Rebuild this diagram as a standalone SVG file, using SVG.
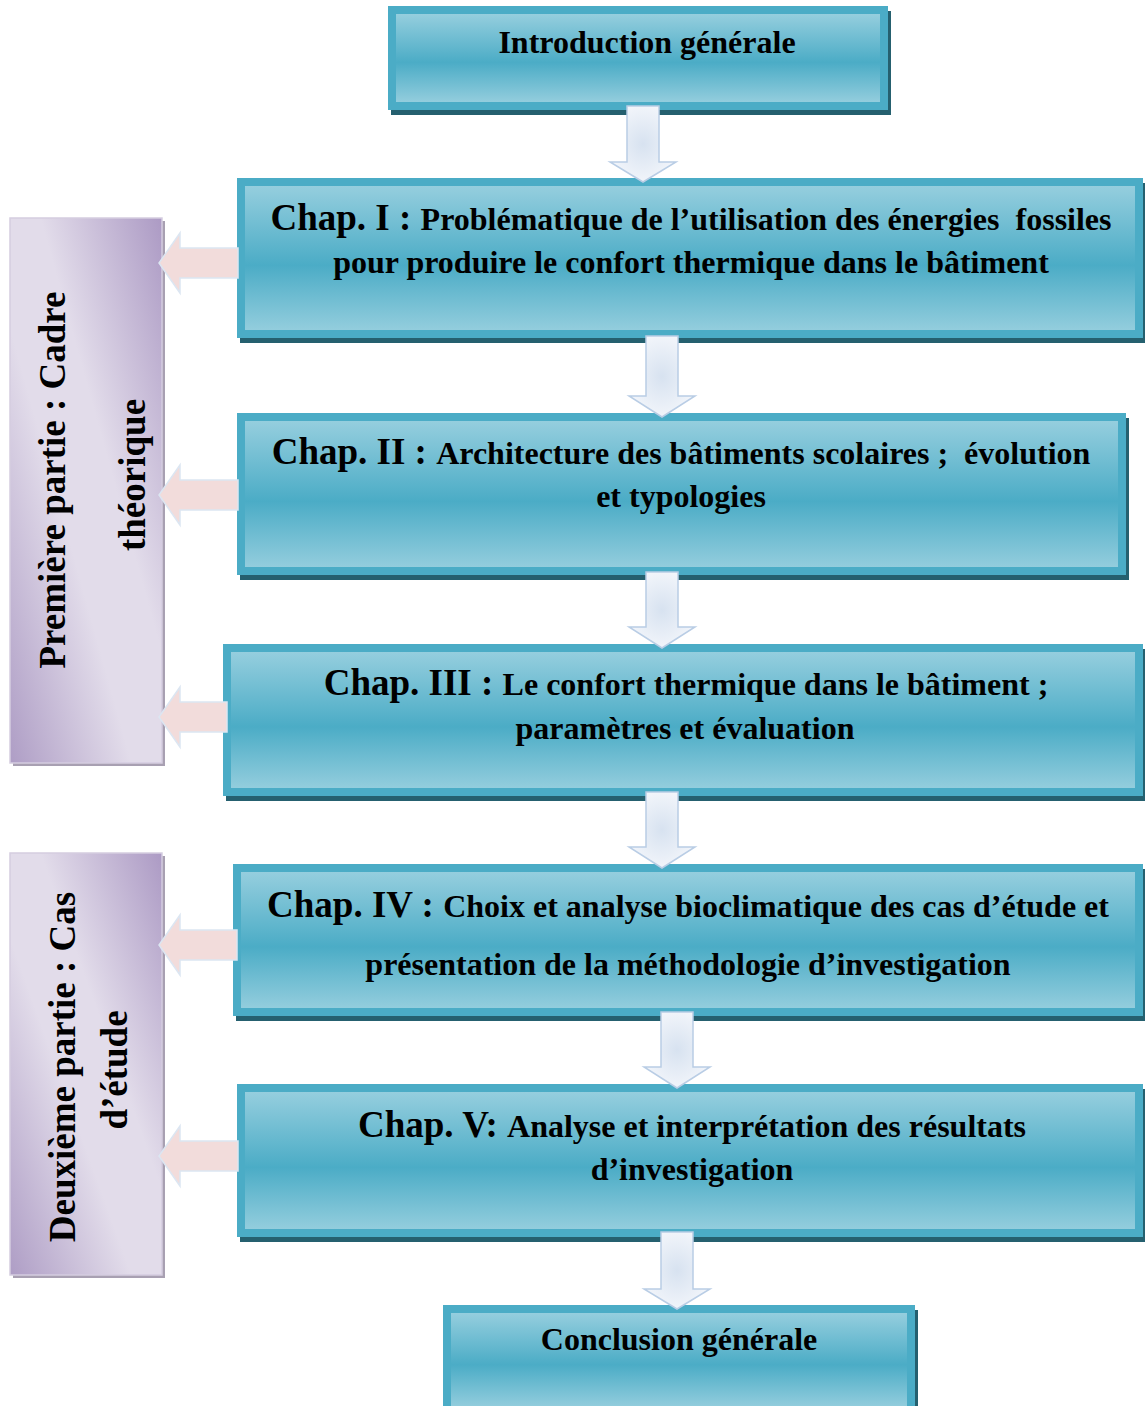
<svg xmlns="http://www.w3.org/2000/svg" width="1145" height="1406" viewBox="0 0 1145 1406">
<defs>
<linearGradient id="boxg" x1="0" y1="0" x2="0" y2="1">
<stop offset="0" stop-color="#95CEDE"/>
<stop offset="0.55" stop-color="#4BACC6"/>
<stop offset="1" stop-color="#93CDDD"/>
</linearGradient>
<linearGradient id="panelg" x1="0" y1="1" x2="1" y2="0">
<stop offset="0" stop-color="#AE9DC5"/>
<stop offset="0.4" stop-color="#E2DCEA"/>
<stop offset="0.6" stop-color="#E2DCEA"/>
<stop offset="1" stop-color="#AC9AC4"/>
</linearGradient>
<radialGradient id="downg" cx="0.5" cy="0.5" r="0.6">
<stop offset="0" stop-color="#D7E2F0"/>
<stop offset="1" stop-color="#F6F8FC"/>
</radialGradient>
<style>
.shadow{fill:#25606F}
.outer{fill:#4BACC6}
.inner{fill:url(#boxg)}
.pshadow{fill:#A8A0B2}
.panel{fill:url(#panelg);stroke:#D5CDE0;stroke-width:1.5}
.t{font-family:"Liberation Serif","Times New Roman",serif;font-weight:bold;font-size:32px;fill:#000;text-anchor:middle}
.c{font-size:37px}
.pt{font-family:"Liberation Serif","Times New Roman",serif;font-weight:bold;font-size:37px;fill:#000;text-anchor:middle}
.down{fill:url(#downg);stroke:#B9CDE5;stroke-width:1.5}
.left{fill:#F2DCDB;stroke:#DCE6F2;stroke-width:1.5}
</style>
</defs>
<rect width="1145" height="1406" fill="#FFFFFF"/>

<g id="panel1">
<rect class="pshadow" x="13" y="221" width="152" height="545"/>
<rect class="panel" x="10" y="218" width="152" height="545"/>
<text class="pt" transform="translate(65,480) rotate(-90)">Première partie : Cadre</text>
<text class="pt" transform="translate(145,475) rotate(-90)">théorique</text>
</g>

<g id="panel2">
<rect class="pshadow" x="13" y="856" width="152" height="422"/>
<rect class="panel" x="10" y="853" width="152" height="422"/>
<text class="pt" transform="translate(75,1067) rotate(-90)">Deuxième partie : Cas</text>
<text class="pt" transform="translate(127,1070) rotate(-90)">d’étude</text>
</g>

<g id="intro">
<rect class="shadow" x="391" y="11" width="500" height="104"/>
<rect class="outer" x="388" y="6" width="500" height="104"/>
<rect class="inner" x="396" y="14" width="484" height="88"/>
<text class="t" x="647" y="53">Introduction générale</text>
</g>

<g id="chap1">
<rect class="shadow" x="240" y="183" width="906" height="160"/>
<rect class="outer" x="237" y="178" width="906" height="160"/>
<rect class="inner" x="245" y="186" width="890" height="144"/>
<text class="t" x="691" y="230" xml:space="preserve"><tspan class="c">Chap. I : </tspan>Problématique de l’utilisation des énergies  fossiles</text>
<text class="t" x="691" y="273">pour produire le confort thermique dans le bâtiment</text>
</g>

<g id="chap2">
<rect class="shadow" x="240" y="418" width="889" height="162"/>
<rect class="outer" x="237" y="413" width="889" height="162"/>
<rect class="inner" x="245" y="421" width="873" height="146"/>
<text class="t" x="681" y="464" xml:space="preserve"><tspan class="c">Chap. II : </tspan>Architecture des bâtiments scolaires ;  évolution</text>
<text class="t" x="681" y="507">et typologies</text>
</g>

<g id="chap3">
<rect class="shadow" x="226" y="649" width="920" height="152"/>
<rect class="outer" x="223" y="644" width="920" height="152"/>
<rect class="inner" x="231" y="652" width="904" height="136"/>
<text class="t" x="686" y="695" xml:space="preserve"><tspan class="c">Chap. III : </tspan>Le confort thermique dans le bâtiment ;</text>
<text class="t" x="685" y="739">paramètres et évaluation</text>
</g>

<g id="chap4">
<rect class="shadow" x="236" y="869" width="910" height="152"/>
<rect class="outer" x="233" y="864" width="910" height="152"/>
<rect class="inner" x="241" y="872" width="894" height="136"/>
<text class="t" x="688" y="917" xml:space="preserve"><tspan class="c">Chap. IV : </tspan>Choix et analyse bioclimatique des cas d’étude et</text>
<text class="t" x="688" y="975">présentation de la méthodologie d’investigation</text>
</g>

<g id="chap5">
<rect class="shadow" x="240" y="1089" width="906" height="153"/>
<rect class="outer" x="237" y="1084" width="906" height="153"/>
<rect class="inner" x="245" y="1092" width="890" height="137"/>
<text class="t" x="692" y="1137" xml:space="preserve"><tspan class="c">Chap. V: </tspan>Analyse et interprétation des résultats</text>
<text class="t" x="692" y="1180">d’investigation</text>
</g>

<g id="conclusion">
<rect class="shadow" x="446" y="1310" width="472" height="110"/>
<rect class="outer" x="443" y="1305" width="472" height="110"/>
<rect class="inner" x="451" y="1313" width="456" height="94"/>
<text class="t" x="679" y="1350">Conclusion générale</text>
</g>

<g id="connectors">
<path class="down" d="M627,106 L659,106 L659,162 L676,162 L643,182 L610,162 L627,162 Z"/>
<path class="down" d="M646,336 L678,336 L678,396 L695,396 L662,417 L629,396 L646,396 Z"/>
<path class="down" d="M646,572 L678,572 L678,627 L695,627 L662,648 L629,627 L646,627 Z"/>
<path class="down" d="M646,792 L678,792 L678,847 L695,847 L662,868 L629,847 L646,847 Z"/>
<path class="down" d="M661,1012 L693,1012 L693,1067 L710,1067 L677,1088 L644,1067 L661,1067 Z"/>
<path class="down" d="M661,1232 L693,1232 L693,1289 L710,1289 L677,1309 L644,1289 L661,1289 Z"/>
<path class="left" d="M238,248 L180,248 L180,233 L159,263 L180,293 L180,278 L238,278 Z"/>
<path class="left" d="M238,480 L180,480 L180,465 L159,495 L180,525 L180,510 L238,510 Z"/>
<path class="left" d="M227,702 L180,702 L180,687 L159,717 L180,747 L180,732 L227,732 Z"/>
<path class="left" d="M237,930 L180,930 L180,915 L159,945 L180,975 L180,960 L237,960 Z"/>
<path class="left" d="M238,1141 L180,1141 L180,1126 L159,1156 L180,1186 L180,1171 L238,1171 Z"/>
</g>
</svg>
